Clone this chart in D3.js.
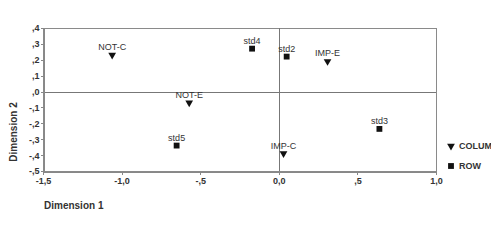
<!DOCTYPE html>
<html>
<head>
<meta charset="utf-8">
<title>Dimension plot</title>
<style>
    body { margin: 0; background: #fff; font-family: "Liberation Sans", Arial, sans-serif; }
    .frame { fill: none; stroke: #8a8a8a; stroke-width: 1; }
    .zero { stroke: #777; stroke-width: 1; shape-rendering: crispEdges; }
    .axis path, .axis line { stroke: #888; shape-rendering: crispEdges; }
    .axis text { font-size: 9px; fill: #333; font-weight: bold; }
    .lbl { font-size: 9px; fill: #333; text-anchor: middle; }
    .title { font-size: 10px; font-weight: bold; fill: #333; }
    .legend text { font-size: 9px; font-weight: bold; fill: #333; }
</style>
<script src="https://d3js.org/d3.v7.min.js"></script>
</head>
<body>
<script>
    // row points (squares)
    var rowNames = ["std2", "std3", "std4", "std5"],
        rowX = [0.05, 0.64, -0.17, -0.65],
        rowY = [0.22, -0.235, 0.27, -0.34];

    // column points (triangles)
    var colNames = ["NOT-C", "NOT-E", "IMP-C", "IMP-E"],
        colX = [-1.06, -0.57, 0.03, 0.31],
        colY = [0.23, -0.07, -0.39, 0.19];

    var xTicks = [-1.5, -1.0, -0.5, 0.0, 0.5, 1.0],
        xTickLabels = ["-1,5", "-1,0", "-,5", "0,0", ",5", "1,0"],
        yTicks = [0.4, 0.3, 0.2, 0.1, 0.0, -0.1, -0.2, -0.3, -0.4, -0.5],
        yTickLabels = [",4", ",3", ",2", ",1", ",0", "-,1", "-,2", "-,3", "-,4", "-,5"];

    var legendNames = ["COLUMN", "ROW"];

    var width = 491, height = 249,
        pLeft = 43, pRight = 436, pTop = 28, pBottom = 171;

    var svg = d3.select("body").append("svg")
        .attr("width", width)
        .attr("height", height);

    var x = d3.scaleLinear().domain([-1.5, 1.0]).range([pLeft, pRight]);
    var y = d3.scaleLinear().domain([-0.5, 0.4]).range([pBottom, pTop]);

    svg.append("rect")
        .attr("class", "frame")
        .attr("x", pLeft + 0.5)
        .attr("y", pTop + 0.5)
        .attr("width", pRight - pLeft)
        .attr("height", pBottom - pTop);

    svg.append("line").attr("class", "zero")
        .attr("x1", pLeft).attr("x2", pRight)
        .attr("y1", Math.round(y(0)) + 0.5).attr("y2", Math.round(y(0)) + 0.5);
    svg.append("line").attr("class", "zero")
        .attr("x1", Math.round(x(0)) + 0.5).attr("x2", Math.round(x(0)) + 0.5)
        .attr("y1", pTop).attr("y2", pBottom);

    var xAxis = d3.axisBottom(x)
        .tickValues(xTicks)
        .tickSize(3)
        .tickSizeOuter(0)
        .tickFormat(function (d, i) { return xTickLabels[i]; });

    var yAxis = d3.axisLeft(y)
        .tickValues(yTicks)
        .tickSize(3)
        .tickSizeOuter(0)
        .tickPadding(1)
        .tickFormat(function (d, i) { return yTickLabels[i]; });

    svg.append("g").attr("class", "axis")
        .attr("transform", "translate(0," + (pBottom + 0.5) + ")")
        .call(xAxis);

    svg.append("g").attr("class", "axis")
        .attr("transform", "translate(" + (pLeft + 0.5) + ",0)")
        .call(yAxis);

    svg.append("text").attr("class", "title")
        .attr("x", 44).attr("y", 209)
        .text("Dimension 1");

    svg.append("text").attr("class", "title")
        .attr("transform", "translate(17,132) rotate(-90)")
        .attr("text-anchor", "middle")
        .text("Dimension 2");

    var tri = d3.symbol().type(d3.symbolTriangle).size(26);
    var sq = d3.symbol().type(d3.symbolSquare).size(34);

    var cols = colNames.map(function (n, i) { return {name: n, x: colX[i], y: colY[i]}; });
    var rows = rowNames.map(function (n, i) { return {name: n, x: rowX[i], y: rowY[i]}; });

    var gCol = svg.append("g").selectAll("g").data(cols).enter().append("g")
        .attr("transform", function (d) { return "translate(" + x(d.x) + "," + y(d.y) + ")"; });
    gCol.append("path").attr("d", tri).attr("transform", "rotate(180)").attr("fill", "#111");
    gCol.append("text").attr("class", "lbl").attr("y", -5).text(function (d) { return d.name; });

    var gRow = svg.append("g").selectAll("g").data(rows).enter().append("g")
        .attr("transform", function (d) { return "translate(" + x(d.x) + "," + y(d.y) + ")"; });
    gRow.append("path").attr("d", sq).attr("fill", "#111");
    gRow.append("text").attr("class", "lbl").attr("y", -5).text(function (d) { return d.name; });

    var legend = svg.append("g").attr("class", "legend");
    legend.append("path").attr("d", tri)
        .attr("transform", "translate(451,146) rotate(180)").attr("fill", "#111");
    legend.append("text").attr("x", 459).attr("y", 149).text(legendNames[0]);
    legend.append("path").attr("d", sq)
        .attr("transform", "translate(451,166)").attr("fill", "#111");
    legend.append("text").attr("x", 459).attr("y", 169).text(legendNames[1]);
</script>
</body>
</html>
